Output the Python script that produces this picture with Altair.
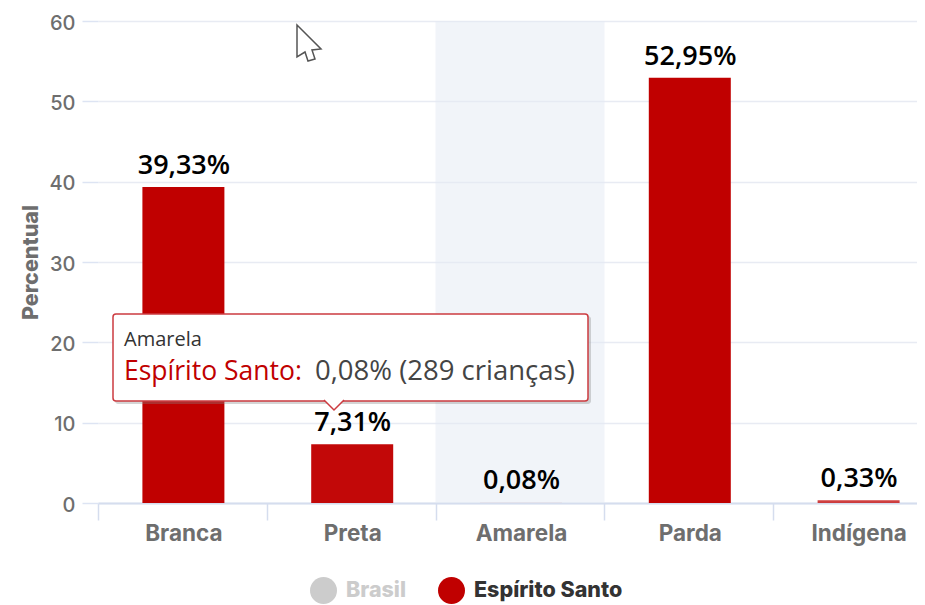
import altair as alt
import pandas as pd

categorias = ["Branca", "Preta", "Amarela", "Parda", "Indígena"]
valores = [39.33, 7.31, 0.08, 52.95, 0.33]
rotulos = ["39,33%", "7,31%", "0,08%", "52,95%", "0,33%"]
opacidades = [1.0, 0.97, 0.05, 1.0, 0.75]
serie = "Espírito Santo"
series = ["Brasil", "Espírito Santo"]
cores = ["#cccccc", "#c00000"]
destaque = ["Amarela"]
tip_titulo = "Amarela"
tip_serie = "Espírito Santo:"
tip_valor = "0,08% (289 crianças)"

df = pd.DataFrame({"categoria": categorias, "valor": valores, "rotulo": rotulos,
                   "serie": serie, "op": opacidades})
one = pd.DataFrame({"k": [0]})

eixo_fonte = "Inter"
fonte = "Open Sans"

x = alt.X("categoria:N", sort=categorias, title=None,
          scale=alt.Scale(type="band", domain=categorias, range=[0, 844], paddingInner=0, paddingOuter=0),
          axis=alt.Axis(labelAngle=0, labelFont=eixo_fonte, labelFontSize=22.5, labelFontWeight=700,
                        labelColor="#6e6e6e", labelPadding=2, labelOffset=1, tickBand="extent", tickSize=17,
                        tickColor="#d5ddee", tickWidth=1.5, domainColor="#d5ddee", domainWidth=2, grid=False))
y = alt.Y("valor:Q", title="Percentual",
          scale=alt.Scale(domain=[0, 60], nice=False),
          axis=alt.Axis(values=[0, 10, 20, 30, 40, 50, 60], labelFont=eixo_fonte, labelFontSize=20,
                        labelFontWeight=500, labelColor="#6e6e6e", labelOffset=2, tickSize=16,
                        tickColor="#dde4f3", tickWidth=1.5, domain=False, labelPadding=7,
                        gridColor="#e8ebf3", gridWidth=1.5,
                        titleFont=eixo_fonte, titleFontSize=21.5, titleFontWeight=800, titleColor="#6e6e6e",
                        titleX=-56))

band = alt.Chart(pd.DataFrame({"categoria": destaque})).mark_bar(
    size=169, color="#e3e9f3", opacity=0.5
).encode(x=x, y=alt.value(0), y2=alt.value(482))

bars = alt.Chart(df).mark_bar(size=82, xOffset=1).encode(
    x=x, y=y,
    color=alt.Color("serie:N", title=None,
                    scale=alt.Scale(domain=series, range=cores),
                    legend=alt.Legend(orient="none", direction="horizontal", legendX=212, legendY=556,
                                      symbolType="circle", symbolSize=729, symbolStrokeWidth=0,
                                      labelFont=eixo_fonte, labelFontSize=21.5, labelFontWeight=800,
                                      columnPadding=31, symbolOffset=0, labelOffset=9,
                                      labelColor={"expr": "datum.label == 'Brasil' ? '#cccccc' : '#333333'"})),
    opacity=alt.Opacity("op:Q", scale=None),
)

labels = alt.Chart(df).mark_text(baseline="alphabetic", dy=-13, dx=1.5, font=fonte, fontSize=27, fontWeight=600,
                                 color="#000000").encode(
    x=x, y=alt.Y("valor:Q"), text="rotulo:N")

shadow = alt.Chart(one).mark_rect(color="#888888", opacity=0.35, cornerRadius=3).encode(
    x=alt.value(17), x2=alt.value(493), y=alt.value(295), y2=alt.value(383))
box = alt.Chart(one).mark_rect(fill="#ffffff", stroke="#cc3b40", strokeWidth=1.5, cornerRadius=3).encode(
    x=alt.value(15), x2=alt.value(490), y=alt.value(293), y2=alt.value(380))
arrow = alt.Chart(one).mark_point(shape="M-1,-0.5L0,0.5L1,-0.5", fill="#ffffff", fillOpacity=1,
                                  stroke="#cc3b40", strokeWidth=1.5, opacity=1, size=400).encode(
    x=alt.value(236), y=alt.value(384))

def txt(s, px, py, size, color):
    return alt.Chart(pd.DataFrame({"t": [s]})).mark_text(
        align="left", baseline="alphabetic", font=fonte, fontSize=size, color=color
    ).encode(x=alt.value(px), y=alt.value(py), text="t:N")

t1 = txt(tip_titulo, 26, 325, 20, "#333333")
t2 = txt(tip_serie, 26, 359, 26.5, "#c00000")
t3 = txt(tip_valor, 217, 359, 27.5, "#444444")

cursor = alt.Chart(one).mark_point(
    shape="M-0.55,-0.95L-0.55,0.65L-0.15,0.4L0,0.85L0.35,0.75L0.2,0.3L0.65,0.25Z",
    fill="#ffffff", fillOpacity=1, stroke="#555555", strokeWidth=1.5, opacity=1, size=1600
).encode(x=alt.value(210), y=alt.value(23))

chart = alt.layer(band, bars, labels, shadow, box, arrow, t1, t2, t3, cursor).properties(
    width=819, height=482,
    autosize=alt.AutoSizeParams(type="none"),
    padding={"left": 90, "top": 13, "right": 0, "bottom": 102},
).configure_view(stroke=None)

chart.save("out.html", embed_options={"renderer": "svg", "actions": False})
